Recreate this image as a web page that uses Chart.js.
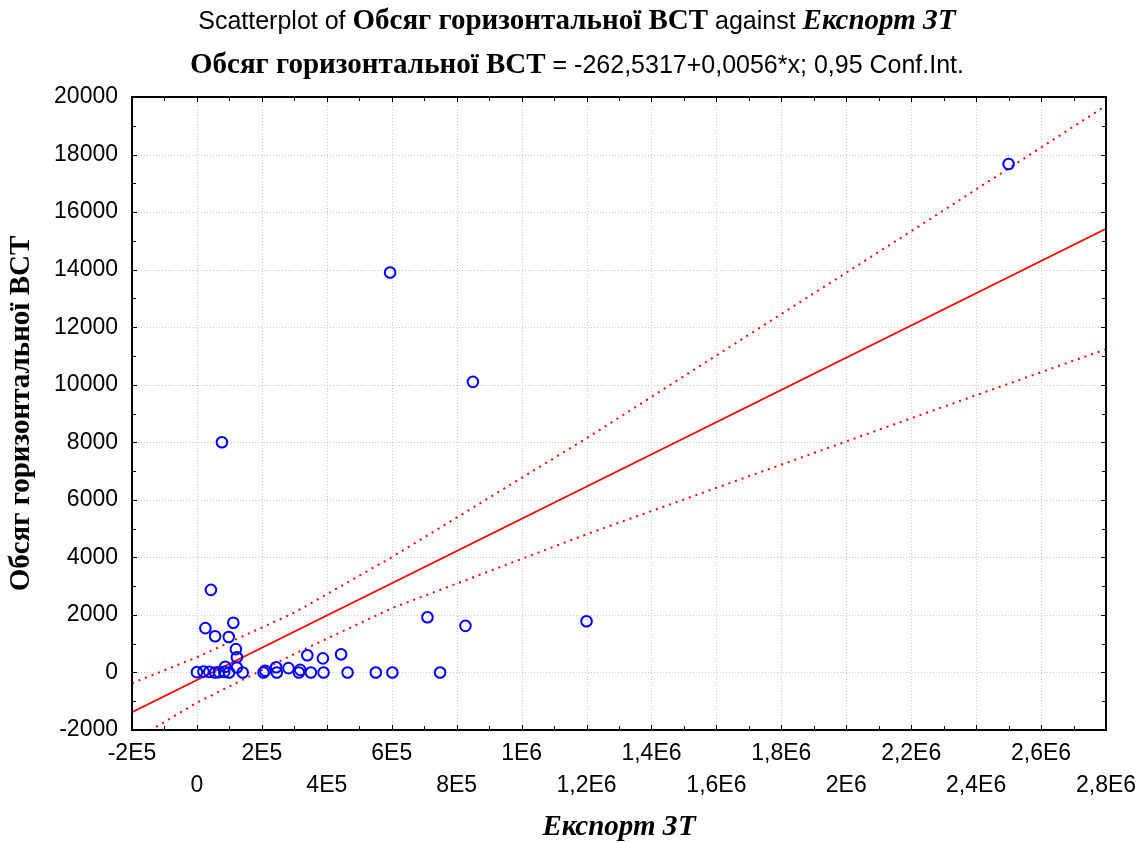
<!DOCTYPE html>
<html>
<head>
<meta charset="utf-8">
<script src="https://cdn.jsdelivr.net/npm/chart.js@4.4.1/dist/chart.umd.min.js"></script>
<style>
  html, body { margin: 0; padding: 0; background: #ffffff; }
  canvas { display: block; }
</style>
</head>
<body>
<canvas id="chart" width="1147" height="843"></canvas>
<script>
// Export volume (x) and horizontal intra-industry trade volume (y), one entry per observation
const exportX = [2500000, 595000, 850000, 77000, 43000, 26000, 56000, 112000, 98000, 120000,
  123000, 87000, 123000, 141000,
  0, 20000, 38000, 56000, 68000, 84000, 99000,
  205000, 210000, 244000, 246000, 282000, 318000, 314000, 340000, 351000,
  388000, 390000, 444000, 464000, 551000, 602000, 749000, 710000, 827000, 1200000];
const bctY = [17670, 13900, 10100, 8000, 2870, 1540, 1260, 1730, 1230, 810,
  530, 200, 170, 0,
  10, 30, 20, 0, 10, 20, 0,
  0, 60, 180, 0, 150, 90, 0, 600, 0,
  490, 0, 630, 0, 0, 0, 0, 1920, 1620, 1780];

// Fitted line: y = intercept + slope * x
const intercept = -262.5317;
const slope = 0.0056;
const fitX = [-200000, 2800000];

// 0.95 confidence band, upper and lower limits
const bandX = [-200000, 0, 300000, 600000, 1200000, 2200000, 2800000];
const bandUpper = [-375, 528, 2078, 4004, 8140, 15334, 19699];
const bandLower = [-2390, -1050, 643, 2231, 4803, 8835, 11233];

// Axis ticks and labels
const xTickValues = [-200000, 0, 200000, 400000, 600000, 800000, 1000000, 1200000, 1400000,
  1600000, 1800000, 2000000, 2200000, 2400000, 2600000, 2800000];
const xTickLabels = ['-2E5', '0', '2E5', '4E5', '6E5', '8E5', '1E6', '1,2E6', '1,4E6',
  '1,6E6', '1,8E6', '2E6', '2,2E6', '2,4E6', '2,6E6', '2,8E6'];
const yTickValues = [-2000, 0, 2000, 4000, 6000, 8000, 10000, 12000, 14000, 16000, 18000, 20000];
const yTickLabels = ['-2000', '0', '2000', '4000', '6000', '8000', '10000', '12000', '14000',
  '16000', '18000', '20000'];

const yTitle = 'Обсяг горизонтальної ВСТ';
const xTitle = 'Експорт ЗТ';

const SANS = "'Liberation Sans', Arial, sans-serif";
const SERIF = "'Liberation Serif', 'Times New Roman', serif";

const titleLines = [
  { y: 29, runs: [
    { text: 'Scatterplot of ', font: '25px ' + SANS },
    { text: yTitle, font: 'bold 29px ' + SERIF },
    { text: ' against ', font: '25px ' + SANS },
    { text: xTitle, font: 'italic bold 29px ' + SERIF }
  ]},
  { y: 73, runs: [
    { text: yTitle, font: 'bold 29px ' + SERIF },
    { text: ' = -262,5317+0,0056*x; 0,95 Conf.Int.', font: '25px ' + SANS }
  ]}
];

// Two-line heading with mixed fonts, centred on the canvas
const headingPlugin = {
  id: 'heading',
  afterDraw(chart) {
    const ctx = chart.ctx;
    ctx.save();
    ctx.fillStyle = '#000000';
    ctx.textBaseline = 'alphabetic';
    ctx.textAlign = 'left';
    const cx = 577;
    for (const line of titleLines) {
      let total = 0;
      for (const r of line.runs) { ctx.font = r.font; total += ctx.measureText(r.text).width; }
      let xPos = cx - total / 2;
      for (const r of line.runs) {
        ctx.font = r.font;
        ctx.fillText(r.text, xPos, line.y);
        xPos += ctx.measureText(r.text).width;
      }
    }
    ctx.restore();
  }
};

// Dotted grid at the major ticks, boxed frame with inward major and minor ticks
const framePlugin = {
  id: 'frame',
  beforeDatasetsDraw(chart) {
    const { ctx, chartArea: a, scales: { x, y } } = chart;
    ctx.save();
    ctx.strokeStyle = '#c8c8c8';
    ctx.lineWidth = 1;
    ctx.setLineDash([1, 2]);
    for (const v of xTickValues.slice(1, -1)) {
      const px = Math.round(x.getPixelForValue(v)) + 0.5;
      ctx.beginPath(); ctx.moveTo(px, a.top); ctx.lineTo(px, a.bottom); ctx.stroke();
    }
    for (const v of yTickValues.slice(1, -1)) {
      const py = Math.round(y.getPixelForValue(v)) + 0.5;
      ctx.beginPath(); ctx.moveTo(a.left, py); ctx.lineTo(a.right, py); ctx.stroke();
    }
    ctx.restore();
  },
  afterDatasetsDraw(chart) {
    const { ctx, chartArea: a, scales: { x, y } } = chart;
    ctx.save();
    ctx.strokeStyle = '#000000';
    ctx.setLineDash([]);
    ctx.lineWidth = 1;
    const xMin = xTickValues[0], xMax = xTickValues[xTickValues.length - 1];
    const xStep = xTickValues[1] - xTickValues[0];
    for (let v = xMin; v <= xMax; v += xStep / 2) {
      const major = Math.abs(((v - xMin) / xStep) - Math.round((v - xMin) / xStep)) < 1e-9;
      const len = major ? 5 : 4;
      const px = Math.round(x.getPixelForValue(v)) + 0.5;
      ctx.beginPath();
      ctx.moveTo(px, a.bottom); ctx.lineTo(px, a.bottom - len);
      ctx.moveTo(px, a.top); ctx.lineTo(px, a.top + len);
      ctx.stroke();
    }
    const yMin = yTickValues[0], yMax = yTickValues[yTickValues.length - 1];
    const yStep = yTickValues[1] - yTickValues[0];
    for (let v = yMin; v <= yMax; v += yStep / 2) {
      const major = Math.abs(((v - yMin) / yStep) - Math.round((v - yMin) / yStep)) < 1e-9;
      const len = major ? 5 : 4;
      const py = Math.round(y.getPixelForValue(v)) + 0.5;
      ctx.beginPath();
      ctx.moveTo(a.left, py); ctx.lineTo(a.left + len, py);
      ctx.moveTo(a.right, py); ctx.lineTo(a.right - len, py);
      ctx.stroke();
    }
    ctx.lineWidth = 2;
    ctx.strokeRect(a.left, a.top, a.right - a.left, a.bottom - a.top);
    ctx.restore();
  }
};

const points = exportX.map((v, i) => ({ x: v, y: bctY[i] }));
const fitLine = fitX.map(v => ({ x: v, y: intercept + slope * v }));
const upper = bandX.map((v, i) => ({ x: v, y: bandUpper[i] }));
const lower = bandX.map((v, i) => ({ x: v, y: bandLower[i] }));

new Chart(document.getElementById('chart'), {
  type: 'scatter',
  data: {
    datasets: [
      {
        label: 'observations',
        data: points,
        pointStyle: 'circle',
        pointRadius: 5.3,
        pointBorderWidth: 2,
        pointBorderColor: '#0000ff',
        pointBackgroundColor: 'rgba(0,0,0,0)',
        showLine: false,
        order: 0
      },
      {
        label: 'fit',
        data: fitLine,
        showLine: true,
        borderColor: '#ff0000',
        borderWidth: 1.8,
        pointRadius: 0,
        order: 1
      },
      {
        label: 'upper',
        data: upper,
        showLine: true,
        borderColor: '#ff0000',
        borderWidth: 2,
        borderDash: [2, 5],
        borderCapStyle: 'butt',
        pointRadius: 0,
        order: 2
      },
      {
        label: 'lower',
        data: lower,
        showLine: true,
        borderColor: '#ff0000',
        borderWidth: 2,
        borderDash: [2, 5],
        borderCapStyle: 'butt',
        pointRadius: 0,
        order: 2
      }
    ]
  },
  options: {
    responsive: false,
    animation: false,
    devicePixelRatio: 1,
    layout: { padding: { top: 97, right: 41, bottom: 0, left: 0 } },
    plugins: {
      legend: { display: false },
      tooltip: { enabled: false },
      title: { display: false }
    },
    scales: {
      x: {
        type: 'linear',
        min: xTickValues[0],
        max: xTickValues[xTickValues.length - 1],
        afterFit(scale) { scale.height = 113; },
        afterBuildTicks(scale) { scale.ticks = xTickValues.map(v => ({ value: v })); },
        grid: { display: false, drawTicks: false },
        border: { display: false },
        ticks: {
          autoSkip: false,
          maxRotation: 0,
          minRotation: 0,
          padding: 8,
          color: '#000000',
          font: { family: SANS, size: 23, lineHeight: 32 / 23 },
          callback(value, index) {
            const label = xTickLabels[xTickValues.indexOf(value)];
            return index % 2 === 0 ? label : ['', label];
          }
        },
        title: {
          display: true,
          text: xTitle,
          color: '#000000',
          font: { family: SERIF, size: 29, weight: 'bold', style: 'italic', lineHeight: 1 },
          padding: { top: 0, bottom: 1 }
        }
      },
      y: {
        type: 'linear',
        min: yTickValues[0],
        max: yTickValues[yTickValues.length - 1],
        afterFit(scale) { scale.width = 132; },
        afterBuildTicks(scale) { scale.ticks = yTickValues.map(v => ({ value: v })); },
        grid: { display: false, drawTicks: false },
        border: { display: false },
        ticks: {
          padding: 14,
          color: '#000000',
          font: { family: SANS, size: 23 },
          callback(value) { return yTickLabels[yTickValues.indexOf(value)]; }
        },
        title: {
          display: true,
          text: yTitle,
          color: '#000000',
          font: { family: SERIF, size: 29, weight: 'bold', lineHeight: 1 },
          padding: { top: 7, bottom: 0 }
        }
      }
    }
  },
  plugins: [headingPlugin, framePlugin]
});
</script>
</body>
</html>
